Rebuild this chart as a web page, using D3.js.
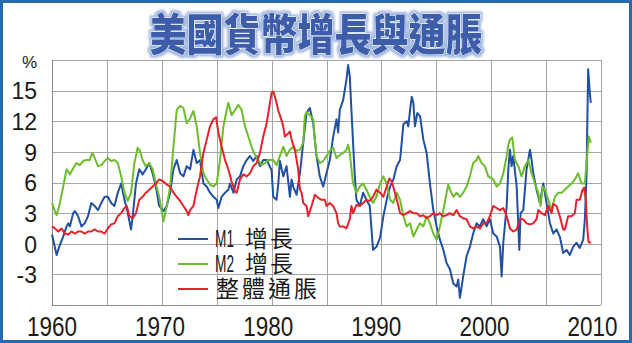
<!DOCTYPE html>
<html>
<head>
<meta charset="utf-8">
<script src="https://cdn.jsdelivr.net/npm/d3@7"></script>
<style>
  html, body { margin: 0; padding: 0; background: #fff; }
  svg { display: block; }
</style>
</head>
<body>
<svg id="chart" width="632" height="343"></svg>
<script>
// US money supply growth (M1, M2) and CPI inflation, year-on-year %, 1960–2009
const titleText = "美國貨幣增長與通脹";
const seriesCodes = ["M1", "M2", ""];
const seriesLabels = ["增長", "增長", "整體通脹"];

const m1Years = [1960.00,1960.42,1960.72,1961.02,1961.33,1961.48,1961.63,1961.93,1962.08,1962.38,1962.68,1962.98,1963.28,1963.58,1963.89,1964.19,1964.49,1964.79,1965.09,1965.39,1965.69,1965.99,1966.30,1966.60,1966.81,1967.20,1967.35,1967.65,1967.95,1968.25,1968.55,1968.86,1969.16,1969.46,1969.76,
  1970.15,1970.45,1970.76,1971.06,1971.36,1971.67,1971.97,1972.27,1972.58,1972.88,1973.18,1973.48,1973.79,1974.09,1974.39,1974.70,1975.00,1975.15,1975.45,1975.76,1976.06,1976.21,1976.52,1976.82,1977.12,1977.42,1977.73,1978.03,1978.33,1978.64,1978.94,1979.24,1979.55,1980.00,
  1980.15,1980.45,1980.61,1980.76,1981.06,1981.36,1981.67,1981.82,1981.97,1982.27,1982.58,1982.88,1983.18,1983.48,1983.79,1984.09,1984.39,1984.70,1985.00,1985.30,1985.61,1985.91,1986.06,1986.21,1986.52,1986.82,1986.97,1987.12,1987.27,1987.42,1987.58,1987.73,1988.03,1988.33,1988.64,1988.94,1989.24,1989.55,
  1989.88,1990.18,1990.48,1990.79,1991.09,1991.39,1991.70,1991.85,1992.00,1992.30,1992.45,1992.61,1992.76,1992.91,1993.06,1993.27,1993.52,1993.82,1994.12,1994.42,1994.73,1995.03,1995.33,1995.64,1995.94,1996.24,1996.55,1996.85,1997.00,1997.15,1997.45,1997.76,1998.06,1998.36,1998.67,1998.97,1999.27,1999.58,1999.88,
  2000.19,2000.50,2000.80,2000.95,2001.10,2001.41,2001.56,2001.71,2001.86,2002.01,2002.32,2002.56,2002.68,2002.92,2003.22,2003.53,2003.68,2003.83,2004.13,2004.44,2004.74,2005.04,2005.35,2005.65,2005.95,2006.25,2006.56,2006.86,2007.16,2007.47,2007.77,2008.07,2008.38,2008.53,2008.68,2008.83,2008.98,2009.07];
const m1Values = [0.9,-1.1,-0.1,0.7,1.7,2.0,1.7,3.0,3.2,2.7,1.7,2.0,2.7,4.0,3.7,3.3,4.0,4.6,4.6,4.0,3.7,5.0,5.9,4.3,3.5,1.4,2.7,5.9,7.3,6.8,7.3,7.9,6.9,5.6,3.7,
  3.2,3.7,5.0,7.3,8.2,6.9,6.6,7.6,7.3,9.2,7.9,8.2,5.9,5.6,5.0,4.6,4.3,3.5,4.6,5.0,5.3,5.9,5.0,6.3,6.6,7.6,8.2,8.6,8.1,8.6,7.6,8.2,8.2,7.2,
  4.6,4.3,5.9,8.1,6.6,7.6,4.6,6.3,5.6,4.8,6.9,9.9,12.8,13.3,11.8,8.6,6.6,5.6,6.9,8.2,10.5,12.2,10.9,13.1,14.1,16.1,17.5,16.4,13.1,9.9,6.6,4.3,3.7,5.0,4.3,3.7,-0.6,-0.3,
  0.6,2.7,4.3,5.6,6.3,7.6,8.2,9.9,11.7,12.0,11.5,13.1,14.4,13.8,11.5,12.8,12.5,10.2,8.9,5.9,3.3,1.7,0.4,-0.6,-1.9,-2.5,-3.9,-4.2,-3.5,-5.3,-3.2,-1.2,-0.3,1.0,2.0,1.7,2.4,1.7,2.4,
  1.0,0.7,-0.3,-3.2,0.1,3.7,7.3,9.2,7.6,8.6,5.6,-0.6,3.0,3.3,7.3,9.2,8.2,6.9,5.3,4.0,5.9,4.0,2.0,1.0,1.4,0.7,-0.9,-0.6,-1.1,-0.3,0.1,-0.4,0.4,2.4,6.6,17.1,14.8,13.8];

const m2Years = [1960.00,1960.27,1960.42,1960.72,1961.02,1961.33,1961.63,1961.93,1962.23,1962.53,1962.83,1963.13,1963.43,1963.67,1963.89,1964.19,1964.49,1964.79,1965.09,1965.39,1965.69,1965.99,1966.30,1966.60,1966.90,1967.20,1967.50,1967.80,1968.01,1968.25,1968.55,1968.86,1969.16,1969.46,1969.76,
  1970.15,1970.45,1970.76,1971.06,1971.36,1971.67,1971.97,1972.27,1972.58,1972.88,1973.18,1973.48,1973.79,1974.09,1974.39,1974.70,1975.00,1975.30,1975.61,1975.91,1976.06,1976.36,1976.67,1976.97,1977.27,1977.58,1977.88,1978.18,1978.48,1978.79,1979.09,1979.39,1979.70,
  1980.15,1980.45,1980.76,1981.06,1981.36,1981.67,1981.97,1982.27,1982.58,1982.88,1983.03,1983.18,1983.48,1983.79,1983.94,1984.09,1984.39,1984.70,1985.00,1985.30,1985.61,1985.91,1986.21,1986.52,1986.82,1986.97,1987.12,1987.42,1987.73,1988.03,1988.33,1988.64,1988.94,1989.24,1989.55,
  1989.88,1990.18,1990.48,1990.79,1991.09,1991.39,1991.70,1992.00,1992.30,1992.61,1992.91,1993.21,1993.52,1993.82,1994.12,1994.42,1994.73,1995.03,1995.33,1995.64,1995.94,1996.09,1996.24,1996.55,1996.85,1997.15,1997.45,1997.76,1998.06,1998.36,1998.67,1998.82,1999.12,1999.42,1999.73,
  2000.19,2000.50,2000.80,2001.10,2001.41,2001.56,2001.71,2001.92,2002.16,2002.47,2002.77,2003.07,2003.38,2003.68,2003.98,2004.28,2004.50,2004.68,2004.89,2005.19,2005.50,2005.80,2006.10,2006.41,2006.71,2007.01,2007.32,2007.62,2007.92,2008.22,2008.53,2008.68,2008.89,2009.07];
const m2Values = [4.0,3.2,2.8,4.0,5.6,7.3,6.8,7.4,7.9,7.7,8.1,8.2,8.2,8.9,8.4,7.6,7.7,8.1,8.4,8.1,8.2,7.9,6.6,5.0,4.2,5.0,7.9,9.4,9.1,8.2,7.6,7.9,7.3,5.9,4.6,
  2.2,3.7,5.6,9.5,13.1,13.5,13.3,11.8,12.3,13.0,11.5,8.9,6.9,6.3,5.8,5.6,5.9,8.2,11.5,13.1,13.8,12.6,13.1,13.6,13.1,11.5,10.5,9.5,8.7,8.2,7.7,7.9,8.2,
  8.2,7.7,8.6,9.5,8.6,9.2,9.5,9.1,9.2,9.9,12.5,12.9,12.6,12.2,10.2,8.6,7.9,8.1,8.6,9.1,9.4,8.4,8.7,8.9,9.2,9.7,8.9,5.9,5.0,5.6,5.9,5.3,4.6,4.0,4.6,
  5.9,6.6,5.9,4.3,4.0,5.0,4.3,2.7,1.7,2.0,0.7,1.4,2.0,1.7,2.7,2.0,1.0,0.4,1.7,3.3,5.0,5.8,5.3,4.6,5.0,4.6,5.0,5.6,6.6,7.9,8.2,8.6,7.9,7.6,6.6,
  6.3,5.6,5.9,6.9,8.6,9.7,10.2,10.4,8.2,7.6,6.6,7.6,8.2,6.9,5.9,5.0,3.7,5.6,5.3,4.3,3.3,4.6,5.0,5.0,5.3,5.6,5.9,6.3,6.9,5.9,5.9,7.9,10.5,9.9];

const cpiYears = [1960.00,1960.27,1960.57,1960.87,1961.17,1961.48,1961.78,1962.08,1962.38,1962.68,1962.98,1963.28,1963.58,1963.89,1964.19,1964.49,1964.79,1965.09,1965.39,1965.69,1965.99,1966.30,1966.60,1966.81,1967.05,1967.35,1967.65,1967.95,1968.25,1968.55,1968.86,1969.16,1969.46,1969.76,
  1970.15,1970.45,1970.76,1971.06,1971.36,1971.67,1971.97,1972.27,1972.42,1972.58,1972.88,1973.18,1973.48,1973.79,1974.09,1974.39,1974.70,1974.94,1975.15,1975.45,1975.76,1976.06,1976.36,1976.67,1976.82,1977.12,1977.42,1977.73,1978.03,1978.33,1978.64,1978.94,1979.24,1979.55,1979.85,
  1980.00,1980.15,1980.30,1980.45,1980.61,1980.76,1981.06,1981.21,1981.52,1981.67,1981.82,1982.12,1982.42,1982.58,1982.73,1982.88,1983.18,1983.33,1983.64,1983.94,1984.24,1984.55,1984.85,1985.00,1985.30,1985.61,1985.91,1986.06,1986.21,1986.52,1986.82,1987.12,1987.27,1987.42,1987.73,1988.03,1988.33,1988.64,1988.94,1989.24,1989.55,
  1989.88,1990.18,1990.48,1990.73,1990.94,1991.24,1991.55,1991.70,1992.00,1992.30,1992.61,1992.91,1993.21,1993.52,1993.82,1994.12,1994.42,1994.73,1995.03,1995.33,1995.64,1995.94,1996.24,1996.55,1996.85,1997.15,1997.45,1997.76,1998.06,1998.36,1998.67,1998.97,1999.27,1999.58,1999.88,
  2000.19,2000.50,2000.80,2001.10,2001.41,2001.71,2002.01,2002.32,2002.62,2002.92,2003.22,2003.53,2003.83,2004.13,2004.29,2004.59,2004.89,2005.19,2005.50,2005.65,2005.95,2006.25,2006.56,2006.71,2007.01,2007.32,2007.62,2007.77,2008.07,2008.32,2008.47,2008.62,2008.74,2008.86,2008.98,2009.07];
const cpiValues = [1.7,1.5,1.2,1.5,1.0,0.9,1.2,1.0,1.2,1.2,1.0,1.2,1.2,1.4,1.2,1.2,1.0,1.5,1.9,2.0,2.7,3.0,3.5,3.7,2.7,2.5,3.0,4.3,4.6,5.0,5.3,5.6,5.9,6.3,
  6.1,5.8,5.6,5.0,4.6,4.2,3.7,3.2,2.8,3.3,3.7,5.3,6.6,8.9,10.2,11.5,12.2,12.4,10.9,9.5,8.2,7.3,6.1,5.1,5.0,6.3,6.8,6.6,6.9,7.6,7.9,8.9,10.5,11.8,13.8,
  14.8,14.9,14.4,13.8,13.0,12.6,11.5,10.5,10.8,11.0,10.2,9.2,7.3,5.3,5.0,4.0,3.7,2.7,3.7,4.8,4.5,4.3,4.3,3.7,4.0,3.7,3.0,2.0,1.7,1.7,1.5,2.4,3.7,3.0,3.8,3.7,4.0,4.3,4.2,4.6,5.3,
  5.0,4.6,5.6,6.4,6.1,5.0,3.7,3.0,2.8,3.0,3.2,3.0,3.0,2.7,2.8,2.5,2.7,3.0,2.8,3.0,2.7,2.8,3.0,2.8,3.3,2.7,2.5,2.4,1.7,1.5,1.7,1.5,2.0,2.0,2.7,
  3.7,3.5,3.3,3.5,2.7,1.5,1.2,1.4,2.4,2.4,2.0,1.9,2.0,2.4,3.3,3.0,2.8,3.7,3.0,3.9,3.7,2.7,1.4,1.4,2.7,2.7,3.0,4.3,4.3,5.3,5.5,4.3,1.7,0.2,0.1,0.2];

const yTickValues = [-3, 0, 3, 6, 9, 12, 15];
const xTickValues = [1960, 1970, 1980, 1990, 2000, 2010];

const colors = ["#2150a2", "#6cbd2c", "#e8212b"];

const svg = d3.select("#chart");
const W = 632, H = 343;
const plotL = 52, plotR = 601, plotT = 60, plotB = 305;

const x = d3.scaleLinear().domain([1960, 2010]).range([plotL, plotR]);
const y = d3.scaleLinear().domain([-6, 18]).range([plotB, plotT]);
// year labels sit on a slightly tighter spacing than the grid
const xLabel = d3.scaleLinear().domain([1960, 2010]).range([51.5, 592]);

svg.append("rect").attr("width", W).attr("height", H).attr("fill", "#fff");

// title with a soft halo
const defs = svg.append("defs");
const glow = defs.append("filter").attr("id", "glow")
  .attr("x", "-10%").attr("y", "-20%").attr("width", "120%").attr("height", "140%");
glow.append("feMorphology").attr("in", "SourceAlpha").attr("operator", "dilate").attr("radius", 1.6).attr("result", "fat");
glow.append("feGaussianBlur").attr("in", "fat").attr("stdDeviation", 0.8).attr("result", "blur");
glow.append("feFlood").attr("flood-color", "#9fb6df");
glow.append("feComposite").attr("in2", "blur").attr("operator", "in").attr("result", "halo");
const merge = glow.append("feMerge");
merge.append("feMergeNode").attr("in", "halo");
merge.append("feMergeNode").attr("in", "SourceGraphic");

svg.append("text")
  .attr("transform", "translate(316,51) scale(1,1.2)")
  .attr("text-anchor", "middle")
  .attr("font-family", "'Noto Sans CJK TC', 'Noto Sans CJK SC', sans-serif")
  .attr("font-weight", 900)
  .attr("font-size", 37)
  .attr("fill", "#3d5ca9")
  .attr("stroke", "#ffffff")
  .attr("stroke-width", 0.8)
  .attr("paint-order", "stroke")
  .attr("filter", "url(#glow)")
  .text(titleText);

// grid
const grid = svg.append("g").attr("class", "grid");
grid.append("g")
  .attr("transform", `translate(0,${plotB})`)
  .call(d3.axisBottom(x).tickValues(d3.range(1960, 2011, 5)).tickSize(-(plotB - plotT)).tickFormat(""))
  .call(g => g.select(".domain").remove());
grid.append("g")
  .attr("transform", `translate(${plotL},0)`)
  .call(d3.axisLeft(y).tickValues(d3.range(-6, 19, 3)).tickSize(-(plotR - plotL)).tickFormat(""))
  .call(g => g.select(".domain").remove());
grid.selectAll("line").attr("stroke", "#a6a6a6").attr("stroke-width", 1).attr("shape-rendering", "crispEdges");

// axis lines
svg.append("line").attr("x1", plotL).attr("x2", plotL).attr("y1", plotT).attr("y2", plotB)
  .attr("stroke", "#8c8c8c").attr("shape-rendering", "crispEdges");
svg.append("line").attr("x1", plotL).attr("x2", plotR).attr("y1", plotB).attr("y2", plotB)
  .attr("stroke", "#8c8c8c").attr("shape-rendering", "crispEdges");

// y axis labels
const yAxis = svg.append("g")
  .attr("transform", `translate(37,0)`)
  .call(d3.axisLeft(y).tickValues(yTickValues).tickSize(0).tickPadding(0)
    .tickFormat(d => d < 0 ? "-" + Math.abs(d) : String(d)));
yAxis.select(".domain").remove();
yAxis.selectAll("text")
  .attr("font-family", "'Liberation Sans', Arial, sans-serif")
  .attr("font-size", 23)
  .attr("fill", "#1a1a1a")
  .attr("dy", "0.36em");

svg.append("text").attr("x", 37).attr("y", 68).attr("text-anchor", "end")
  .attr("font-family", "'Liberation Sans', Arial, sans-serif").attr("font-size", 17)
  .attr("fill", "#1a1a1a").text("%");

// x axis labels
const xAxis = svg.append("g")
  .attr("transform", `translate(0,${plotB})`)
  .call(d3.axisBottom(xLabel).tickValues(xTickValues).tickSize(0).tickPadding(0).tickFormat(d3.format("d")));
xAxis.select(".domain").remove();
xAxis.selectAll("text")
  .attr("font-family", "'Liberation Sans', Arial, sans-serif")
  .attr("font-size", 28)
  .attr("fill", "#1a1a1a")
  .attr("dy", null)
  .attr("y", 31)
  .attr("textLength", 50)
  .attr("lengthAdjust", "spacingAndGlyphs");

// series lines
const series = [
  { years: m1Years, values: m1Values, color: colors[0] },
  { years: m2Years, values: m2Values, color: colors[1] },
  { years: cpiYears, values: cpiValues, color: colors[2] }
];

const line = d3.line().x(d => x(d[0])).y(d => y(d[1]));
const plot = svg.append("g");
series.forEach(s => {
  plot.append("path")
    .datum(d3.zip(s.years, s.values))
    .attr("fill", "none")
    .attr("stroke", s.color)
    .attr("stroke-width", 2)
    .attr("stroke-linejoin", "round")
    .attr("d", line);
});

// legend
const legendRows = [239, 264, 289];
const legend = svg.append("g");
series.forEach((s, i) => {
  const ly = legendRows[i];
  legend.append("line").attr("x1", 178).attr("x2", 208).attr("y1", ly).attr("y2", ly)
    .attr("stroke", s.color).attr("stroke-width", 2);
  if (seriesCodes[i]) {
    legend.append("text")
      .attr("x", 215).attr("y", ly + 8)
      .attr("font-family", "'Liberation Sans', Arial, sans-serif")
      .attr("font-size", 23)
      .attr("fill", "#1a1a1a")
      .attr("textLength", 19).attr("lengthAdjust", "spacingAndGlyphs")
      .text(seriesCodes[i]);
    legend.append("text")
      .attr("x", 245).attr("y", ly + 8)
      .attr("font-family", "'Noto Sans CJK TC', 'Noto Sans CJK SC', sans-serif")
      .attr("font-size", 23)
      .attr("fill", "#1a1a1a")
      .attr("letter-spacing", 2)
      .text(seriesLabels[i]);
  } else {
    legend.append("text")
      .attr("x", 216).attr("y", ly + 8)
      .attr("font-family", "'Noto Sans CJK TC', 'Noto Sans CJK SC', sans-serif")
      .attr("font-size", 23)
      .attr("fill", "#1a1a1a")
      .attr("letter-spacing", 3)
      .text(seriesLabels[i]);
  }
});

// frame
svg.append("rect").attr("x", 1.5).attr("y", 1.5).attr("width", W - 3).attr("height", H - 3)
  .attr("fill", "none").attr("stroke", "#2a69ad").attr("stroke-width", 3);
</script>
</body>
</html>
